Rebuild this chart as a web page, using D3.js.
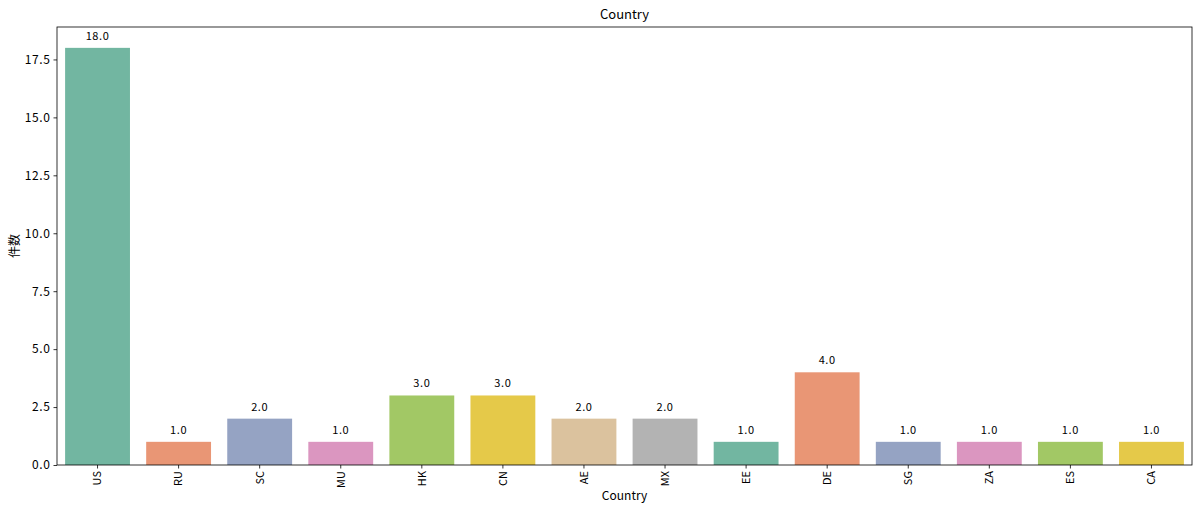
<!DOCTYPE html>
<html>
<head>
<meta charset="utf-8">
<script src="https://cdn.jsdelivr.net/npm/d3@7"></script>
<style>
  body { margin: 0; background: #fff; }
  text { font-family: "Noto Sans CJK JP", sans-serif; fill: #000; }
</style>
</head>
<body>
<svg id="chart" width="1200" height="510"></svg>
<script>
const countries = ['US', 'RU', 'SC', 'MU', 'HK', 'CN', 'AE', 'MX', 'EE', 'DE', 'SG', 'ZA', 'ES', 'CA']
const counts = [18, 1, 2, 1, 3, 3, 2, 2, 1, 4, 1, 1, 1, 1]
const yTicks = [0, 2.5, 5, 7.5, 10, 12.5, 15, 17.5]
const set2 = ['#66c2a5', '#fc8d62', '#8da0cb', '#e78ac3', '#a6d854', '#ffd92f', '#e5c494', '#b3b3b3']

const margin = {left: 57, right: 8, top: 27, bottom: 45}
const width = 1200, height = 510

// seaborn desaturates its palette a bit
const desat = c => { let h = d3.hsl(c); h.s *= 0.75; return h.formatHex() }

let svg = d3.select('#chart')

let x = d3.scaleBand()
    .domain(countries)
    .range([margin.left, width - margin.right])
    .paddingInner(0.2)
    .paddingOuter(0.1)

let y = d3.scaleLinear()
    .domain([0, d3.max(counts) * 1.05])
    .range([height - margin.bottom, margin.top])

let data = countries.map((c, i) => ({country: c, count: counts[i], color: desat(set2[i % set2.length])}))

svg.selectAll('rect.bar')
    .data(data)
    .enter()
    .append('rect')
    .attr('class', 'bar')
    .attr('x', d => x(d.country))
    .attr('y', d => y(d.count))
    .attr('width', x.bandwidth())
    .attr('height', d => y(0) - y(d.count))
    .attr('fill', d => d.color)

svg.selectAll('text.val')
    .data(data)
    .enter()
    .append('text')
    .attr('class', 'val')
    .attr('x', d => x(d.country) + x.bandwidth() / 2)
    .attr('y', d => y(d.count) - 8)
    .style('font-size', '11px')
    .style('letter-spacing', '0.6px')
    .style('text-anchor', 'middle')
    .text(d => d.count.toFixed(1))

// axes
let xAxis = svg.append('g')
    .attr('transform', `translate(0,${height - margin.bottom})`)
    .call(d3.axisBottom(x).tickSizeOuter(0).tickSize(3.5))
xAxis.selectAll('text')
    .style('font-size', '11px')
    .attr('transform', 'rotate(-90)')
    .attr('x', -6)
    .attr('y', 0)
    .attr('dy', '0.35em')
    .style('text-anchor', 'end')

let yAxis = svg.append('g')
    .attr('transform', `translate(${margin.left},0)`)
    .call(d3.axisLeft(y).tickValues(yTicks).tickFormat(d3.format('.1f')).tickSizeOuter(0).tickSize(3.5))
yAxis.selectAll('text').style('font-size', '12px').style('letter-spacing', '0.6px')

svg.selectAll('.domain').remove()
svg.selectAll('.tick line').attr('stroke', '#000').attr('stroke-width', 0.8)

svg.append('rect')
    .attr('x', margin.left)
    .attr('y', margin.top)
    .attr('width', width - margin.left - margin.right)
    .attr('height', height - margin.top - margin.bottom)
    .attr('fill', 'none')
    .attr('stroke', '#000')
    .attr('stroke-width', 0.8)

svg.append('text')
    .attr('x', (margin.left + width - margin.right) / 2)
    .attr('y', 19)
    .style('font-size', '13px')
    .style('text-anchor', 'middle')
    .text('Country')

svg.append('text')
    .attr('x', (margin.left + width - margin.right) / 2)
    .attr('y', 500)
    .style('font-size', '12px')
    .style('text-anchor', 'middle')
    .text('Country')

svg.append('text')
    .attr('transform', `translate(19,${(margin.top + height - margin.bottom) / 2}) rotate(-90)`)
    .style('font-size', '12px')
    .style('text-anchor', 'middle')
    .text('件数')
</script>
</body>
</html>
